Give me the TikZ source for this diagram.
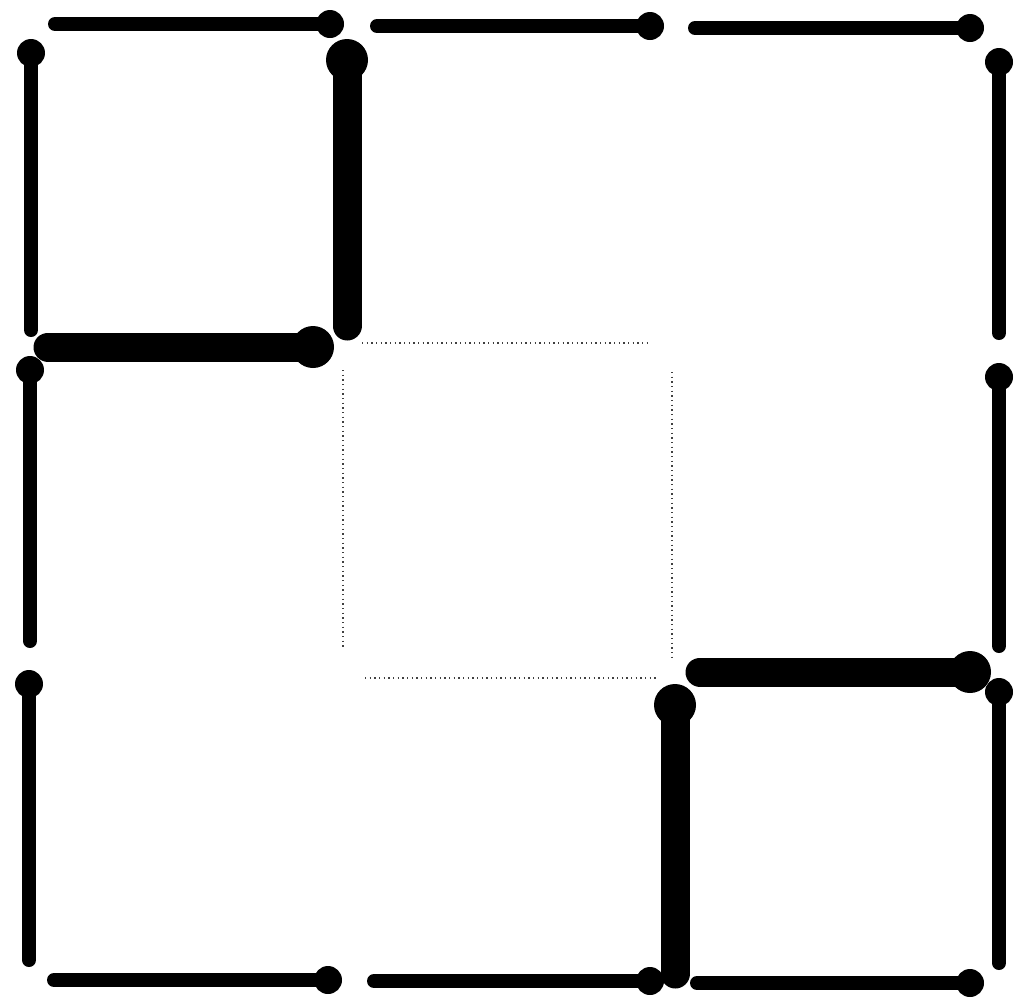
\documentclass[tikz,border=0pt]{standalone}
\begin{document}
\begin{tikzpicture}[x=0.75pt,y=-0.75pt,
  thinstick/.style={line width=10.5pt,line cap=round,black},
  thickstick/.style={line width=21.75pt,line cap=round,black},
  faint/.style={line width=0.9pt,black!75,dash pattern=on 0.9pt off 2.6pt}]
\useasboundingbox (0,0) rectangle (1018,1001);
% thin matches: tail -> head
\foreach \n/\tx/\ty/\hx/\hy in {
  t1/55/24/330/24, t2/377/26/650/26, t3/695/28/970/28,
  l1/31/330/31/53, l2/30/641/30/370, l3/29/960/29/684,
  r1/999/333/999/62, r2/999/646/999/377, r3/999/963/999/692,
  b1/54/980/328/980, b2/374/981/650/981, b3/697/983/970/983}{
  \coordinate (\n tail) at (\tx,\ty);
  \coordinate (\n head) at (\hx,\hy);
  \draw[thinstick] (\n tail) -- (\n head);
  \fill (\n head) circle (10.5pt);
}
% thick matches
\foreach \n/\tx/\ty/\hx/\hy in {
  v1/347/326/347/60, h1/48/347/313/347,
  h2/700/672/970/672, v2/675/974/675/705}{
  \coordinate (\n tail) at (\tx,\ty);
  \coordinate (\n head) at (\hx,\hy);
  \draw[thickstick] (\n tail) -- (\n head);
  \fill (\n head) circle (15.75pt);
}
% dotted inner square
\coordinate (qa) at (362,343); \coordinate (qb) at (650,343);
\coordinate (qc) at (343,370); \coordinate (qd) at (343,647);
\coordinate (qe) at (672,372); \coordinate (qf) at (672,660);
\coordinate (qg) at (365,678); \coordinate (qh) at (658,678);
\draw[faint] (qa) -- (qb);
\draw[faint] (qc) -- (qd);
\draw[faint] (qe) -- (qf);
\draw[faint] (qg) -- (qh);
\end{tikzpicture}
\end{document}
